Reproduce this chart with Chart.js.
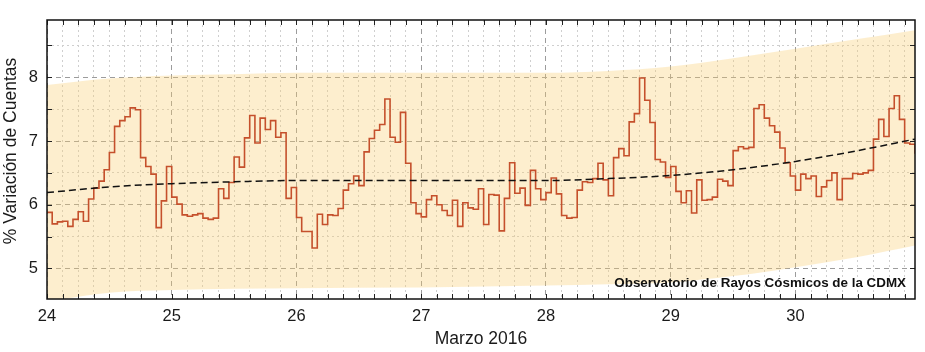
<!DOCTYPE html>
<html>
<head>
<meta charset="utf-8">
<script src="https://cdn.jsdelivr.net/npm/chart.js@4.4.1/dist/chart.umd.min.js"></script>
<style>
  html, body { margin: 0; padding: 0; background: #fff; }
</style>
</head>
<body>
<canvas id="chart" width="925" height="352"></canvas>
<script>
// hourly % variation, one array per day of March 2016
const mar24 = [5.88, 5.70, 5.73, 5.74, 5.66, 5.77, 5.89, 5.74, 6.09, 6.26, 6.37, 6.55,
               6.82, 7.23, 7.32, 7.38, 7.52, 7.49, 6.74, 6.60, 6.48, 5.64, 6.06, 6.60];
const mar25 = [6.12, 6.01, 5.84, 5.82, 5.84, 5.86, 5.79, 5.77, 5.79, 6.25, 6.10, 6.35,
               6.75, 6.59, 7.05, 7.40, 6.97, 7.36, 7.18, 7.32, 7.06, 7.13, 6.10, 6.27];
const mar26 = [5.80, 5.58, 5.58, 5.32, 5.85, 5.69, 5.84, 5.83, 5.94, 6.23, 6.33, 6.45,
               6.30, 6.83, 7.04, 7.17, 7.26, 7.66, 7.06, 6.98, 7.45, 6.65, 6.03, 5.86];
const mar27 = [5.81, 6.08, 6.14, 6.00, 5.91, 5.83, 6.07, 5.66, 6.03, 5.95, 5.93, 6.25,
               5.69, 6.16, 6.15, 5.59, 6.10, 6.66, 6.18, 6.26, 5.99, 6.54, 6.25, 6.08];
const mar28 = [6.19, 6.42, 6.17, 5.83, 5.79, 5.80, 6.23, 6.36, 6.35, 6.41, 6.65, 6.39,
               6.14, 6.74, 6.88, 6.77, 7.30, 7.43, 7.99, 7.64, 7.29, 6.71, 6.67, 6.43];
const mar29 = [6.60, 6.21, 6.03, 6.22, 5.87, 6.39, 6.07, 6.08, 6.12, 6.40, 6.37, 6.30,
               6.85, 6.91, 6.88, 6.90, 7.51, 7.57, 7.36, 7.24, 7.14, 6.89, 6.66, 6.45];
const mar30 = [6.23, 6.48, 6.41, 6.45, 6.13, 6.28, 6.38, 6.50, 6.08, 6.41, 6.41, 6.49,
               6.48, 6.50, 6.54, 7.03, 7.34, 7.07, 7.51, 7.71, 7.34, 6.97, 6.95, 6.80];

// trend and band, read at these days
const trendDays = [24, 24.5, 25, 25.5, 26, 27, 28, 28.5, 29, 29.5, 30, 30.5, 30.958];
const trend     = [6.19, 6.28, 6.33, 6.36, 6.38, 6.38, 6.38, 6.41, 6.46, 6.55, 6.68, 6.85, 7.03];
const bandUpper = [7.88, 7.98, 8.03, 8.05, 8.07, 8.07, 8.07, 8.10, 8.17, 8.30, 8.45, 8.60, 8.74];
const bandLower = [4.48, 4.62, 4.66, 4.68, 4.69, 4.70, 4.73, 4.75, 4.78, 4.88, 5.02, 5.18, 5.36];

const dayTicks = [24, 25, 26, 27, 28, 29, 30];
const credit = 'Observatorio de Rayos Cósmicos de la CDMX';
const yTitle = '% Variación de Cuentas';
const FONT = '"Liberation Sans", Arial, Helvetica, sans-serif';

const hourly = [].concat(mar24, mar25, mar26, mar27, mar28, mar29, mar30);
const hourlyPts = hourly.map((v, i) => ({x: dayTicks[0] + i / 24, y: v}));
function pts(xs, ys){ return ys.map((y, i) => ({x: xs[i], y: y})); }

const xMin = 24, xMax = 30.958, yMin = 4.52, yMax = 8.9;

// frame, inner tick marks, y title and the observatory credit
const framePlugin = {
  id: 'frame',
  afterDraw(chart){
    const {ctx, chartArea: a, scales} = chart;
    ctx.save();
    ctx.strokeStyle = '#222';
    ctx.lineWidth = 1;
    ctx.beginPath();
    ['x', 'xm'].forEach(k => {
      scales[k].ticks.forEach(t => {
        const p = Math.round(scales[k].getPixelForValue(t.value)) + 0.5;
        ctx.moveTo(p, a.top); ctx.lineTo(p, a.top + 5);
        ctx.moveTo(p, a.bottom); ctx.lineTo(p, a.bottom - 5);
      });
    });
    ['y', 'ym'].forEach(k => {
      scales[k].ticks.forEach(t => {
        const p = Math.round(scales[k].getPixelForValue(t.value)) + 0.5;
        ctx.moveTo(a.left, p); ctx.lineTo(a.left + 5, p);
        ctx.moveTo(a.right, p); ctx.lineTo(a.right - 5, p);
      });
    });
    ctx.stroke();
    ctx.lineWidth = 1.5;
    ctx.strokeStyle = '#111';
    ctx.strokeRect(a.left, a.top, a.right - a.left, a.bottom - a.top);

    ctx.font = 'bold 13.4px ' + FONT;
    ctx.fillStyle = '#111';
    ctx.textAlign = 'right';
    ctx.textBaseline = 'alphabetic';
    ctx.fillText(credit, a.right - 9, a.bottom - 12.5);

    ctx.translate(11, 151);
    ctx.rotate(-Math.PI / 2);
    ctx.font = '17.5px ' + FONT;
    ctx.fillStyle = '#1a1a1a';
    ctx.textAlign = 'center';
    ctx.textBaseline = 'middle';
    ctx.fillText(yTitle, 0, 0);
    ctx.restore();
  }
};

const minorColor = ctx => Number.isInteger(ctx.tick.value) ? 'rgba(0,0,0,0)' : '#cfcfcf';

new Chart(document.getElementById('chart'), {
  type: 'line',
  data: {
    datasets: [
      {
        label: 'tendencia',
        data: pts(trendDays, trend),
        borderColor: '#111',
        borderWidth: 1.5,
        borderDash: [7, 4],
        pointRadius: 0,
        cubicInterpolationMode: 'monotone',
        fill: false,
        order: 0
      },
      {
        label: 'variacion',
        data: hourlyPts,
        borderColor: '#c5502c',
        borderWidth: 1.6,
        pointRadius: 0,
        stepped: 'before',
        fill: false,
        order: 1
      },
      {
        label: 'banda sup',
        data: pts(trendDays, bandUpper),
        borderWidth: 0,
        borderColor: 'rgba(0,0,0,0)',
        backgroundColor: 'rgba(250,205,110,0.34)',
        pointRadius: 0,
        cubicInterpolationMode: 'monotone',
        fill: '+1',
        order: 2
      },
      {
        label: 'banda inf',
        data: pts(trendDays, bandLower),
        borderWidth: 0,
        borderColor: 'rgba(0,0,0,0)',
        pointRadius: 0,
        cubicInterpolationMode: 'monotone',
        fill: false,
        order: 3
      }
    ]
  },
  options: {
    responsive: false,
    animation: false,
    events: [],
    layout: { padding: { top: 20, right: 10, left: 0, bottom: 0 } },
    plugins: { legend: { display: false }, tooltip: { enabled: false } },
    scales: {
      x: {
        type: 'linear', position: 'bottom', min: xMin, max: xMax,
        afterFit: s => { s.height = 53; },
        ticks: {
          stepSize: 1, autoSkip: false, includeBounds: false, maxRotation: 0,
          padding: 8, color: '#1a1a1a', font: { family: FONT, size: 16.5 },
          callback: v => dayTicks.includes(v) ? String(v) : ''
        },
        grid: { color: '#9c9c9c', lineWidth: 1, drawTicks: false },
        border: { display: false, dash: [5, 4] },
        title: { display: true, text: 'Marzo 2016', color: '#1a1a1a',
                 font: { family: FONT, size: 17.5 }, padding: { top: 0, bottom: 2 } }
      },
      xm: {
        type: 'linear', position: 'bottom', min: xMin, max: xMax,
        afterFit: s => { s.height = 0; },
        ticks: { display: false, stepSize: 0.125, includeBounds: false, maxTicksLimit: 200 },
        grid: { color: minorColor, lineWidth: 1, drawTicks: false },
        border: { display: false, dash: [2, 3] }
      },
      y: {
        type: 'linear', position: 'left', min: yMin, max: yMax,
        afterFit: s => { s.width = 47; },
        ticks: {
          stepSize: 1, includeBounds: false, padding: 9, color: '#1a1a1a',
          font: { family: FONT, size: 16.5 },
          callback: v => Number.isInteger(v) ? String(v) : ''
        },
        grid: { color: '#9c9c9c', lineWidth: 1, drawTicks: false },
        border: { display: false, dash: [5, 4] }
      },
      ym: {
        type: 'linear', position: 'left', min: yMin, max: yMax,
        afterFit: s => { s.width = 0; },
        ticks: { display: false, stepSize: 0.5, includeBounds: false, maxTicksLimit: 50 },
        grid: { color: minorColor, lineWidth: 1, drawTicks: false },
        border: { display: false, dash: [2, 3] }
      }
    }
  },
  plugins: [framePlugin]
});
</script>
</body>
</html>
